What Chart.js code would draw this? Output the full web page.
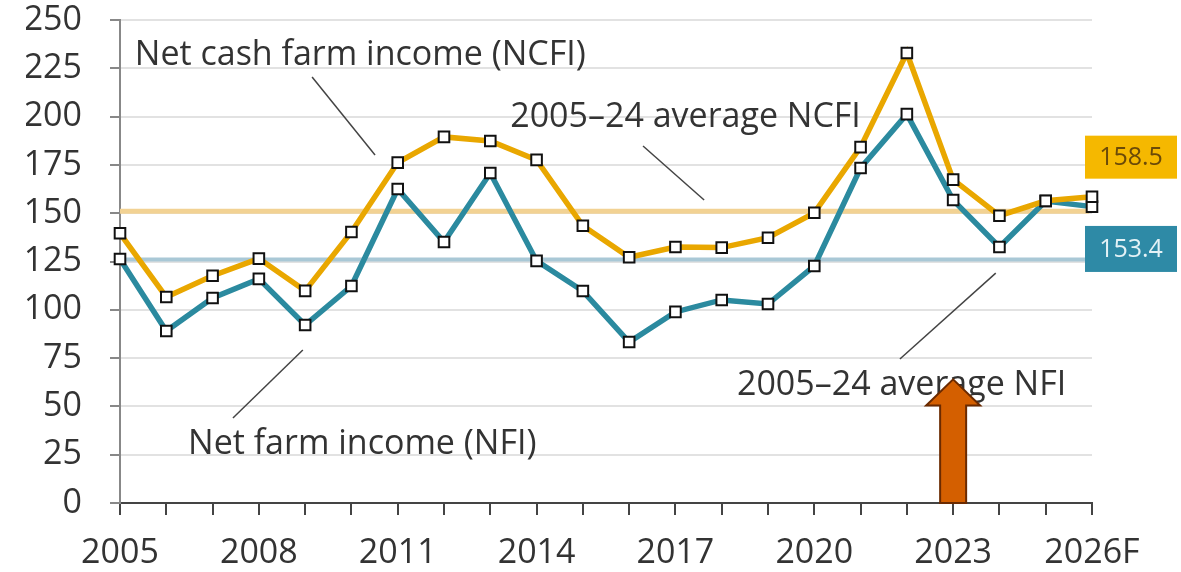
<!DOCTYPE html>
<html>
<head>
<meta charset="utf-8">
<script src="https://cdn.jsdelivr.net/npm/chart.js@4.4.1/dist/chart.umd.min.js"></script>
<style>
  html, body { margin: 0; padding: 0; background: #fff; }
  #wrap { width: 1181px; height: 572px; }
</style>
</head>
<body>
<div id="wrap"><canvas id="chart" width="1181" height="572"></canvas></div>
<script>
'use strict';

// Farm income, billion dollars
const years = ['2005', '2006', '2007', '2008', '2009', '2010', '2011', '2012', '2013', '2014', '2015',
               '2016', '2017', '2018', '2019', '2020', '2021', '2022', '2023', '2024', '2025', '2026F'];
const tickYears = ['2005', '2008', '2011', '2014', '2017', '2020', '2023', '2026F'];
const ncfi = [139.6, 106.6, 117.6, 126.5, 109.8, 140.3, 176.2, 189.5, 187.4, 177.6, 143.5,
              127.2, 132.5, 132.2, 137.3, 150.2, 184.2, 232.9, 167.4, 148.7, 156.4, 158.5];
const nfi = [126.3, 89.0, 106.1, 116.0, 92.1, 112.3, 162.5, 135.1, 170.8, 125.3, 109.7,
             83.3, 98.9, 105.1, 103.0, 122.7, 173.4, 201.3, 156.8, 132.5, 156.3, 153.4];
const ncfiAverage = 151;
const nfiAverage = 126;

const GOLD = '#e9a700';
const TEAL = '#2b8a9f';
const FONT = "'Open Sans', sans-serif";

// text callouts: x in year steps from 2005, y in chart units
const callouts = [
    { text: 'Net cash farm income (NCFI)', x: 0.32, y: 226.7, from: [4.15, 220.5], to: [5.51, 180.1] },
    { text: '2005\u201324 average NCFI', x: 8.43, y: 194.6, from: [11.30, 184.8], to: [12.62, 156.8] },
    { text: 'Net farm income (NFI)', x: 1.47, y: 25.4, from: [2.44, 44.0], to: [3.95, 79.2] },
    { text: '2005\u201324 average NFI', x: 13.33, y: 55.9, from: [16.85, 74.5], to: [18.92, 119.0] }
];

function px(chart, i) {
    return chart.scales.x.getPixelForDecimal(i / (years.length - 1));
}

function hline(ctx, x1, x2, y, color, width) {
    ctx.beginPath();
    ctx.strokeStyle = color;
    ctx.lineWidth = width;
    ctx.moveTo(x1, y);
    ctx.lineTo(x2, y);
    ctx.stroke();
}

const overlay = {
    id: 'overlay',
    beforeDatasetsDraw(chart) {
        const { ctx, chartArea: a, scales: { y } } = chart;
        ctx.save();
        hline(ctx, a.left, a.right - 3, y.getPixelForValue(ncfiAverage), '#f2d293', 5);
        hline(ctx, a.left, a.right - 3, y.getPixelForValue(nfiAverage), '#a9c8d6', 4);
        ctx.restore();
    },
    afterDraw(chart) {
        const { ctx, chartArea: a, scales: { x, y } } = chart;
        ctx.save();

        // callouts
        ctx.font = '34px ' + FONT;
        ctx.fillStyle = '#333';
        ctx.textBaseline = 'alphabetic';
        ctx.strokeStyle = '#444';
        ctx.lineWidth = 1.5;
        callouts.forEach(c => {
            ctx.fillText(c.text, px(chart, c.x), y.getPixelForValue(c.y));
            ctx.beginPath();
            ctx.moveTo(px(chart, c.from[0]), y.getPixelForValue(c.from[1]));
            ctx.lineTo(px(chart, c.to[0]), y.getPixelForValue(c.to[1]));
            ctx.stroke();
        });

        // last value boxes
        const boxes = [
            { value: ncfi[ncfi.length - 1], at: 179, h: 43, bg: '#f5b800', fg: '#6b4a08' },
            { value: nfi[nfi.length - 1], at: 131.5, h: 46, bg: '#2e8aa6', fg: '#e4f2f6' }
        ];
        ctx.font = '25px ' + FONT;
        ctx.textAlign = 'center';
        ctx.textBaseline = 'middle';
        boxes.forEach(b => {
            const cy = y.getPixelForValue(b.at);
            ctx.fillStyle = b.bg;
            ctx.fillRect(a.right - 7, cy - b.h / 2, 92, b.h);
            ctx.fillStyle = b.fg;
            ctx.fillText(b.value.toFixed(1), a.right + 39, cy + 1);
        });

        // orange arrow pointing at 2023
        const ax = x.getPixelForValue(years.indexOf('2023'));
        const tip = y.getPixelForValue(64);
        const base = y.getPixelForValue(50.5);
        const bottom = y.getPixelForValue(0);
        ctx.beginPath();
        ctx.moveTo(ax, tip);
        ctx.lineTo(ax + 27, base);
        ctx.lineTo(ax + 13, base);
        ctx.lineTo(ax + 13, bottom);
        ctx.lineTo(ax - 13, bottom);
        ctx.lineTo(ax - 13, base);
        ctx.lineTo(ax - 27, base);
        ctx.closePath();
        ctx.fillStyle = '#d45f00';
        ctx.fill();
        ctx.strokeStyle = '#6b2a00';
        ctx.lineWidth = 2;
        ctx.stroke();

        ctx.restore();
    }
};

Chart.defaults.font.family = FONT;
Chart.defaults.color = '#333';

const pointStyle = {
    pointStyle: 'rect',
    pointRadius: 7.5,
    pointBackgroundColor: '#fff',
    pointBorderColor: '#111',
    pointBorderWidth: 2
};

new Chart(document.getElementById('chart'), {
    type: 'line',
    data: {
        labels: years,
        datasets: [
            Object.assign({
                label: 'Net cash farm income (NCFI)',
                data: ncfi,
                order: 0,
                borderColor: GOLD,
                borderWidth: 5.5,
                tension: 0
            }, pointStyle),
            Object.assign({
                label: 'Net farm income (NFI)',
                data: nfi,
                order: 1,
                borderColor: TEAL,
                borderWidth: 5.5,
                tension: 0
            }, pointStyle)
        ]
    },
    options: {
        responsive: false,
        animation: false,
        layout: { autoPadding: false, padding: { left: 26, right: 89, top: 0, bottom: 0 } },
        plugins: {
            legend: { display: false },
            tooltip: { enabled: false }
        },
        scales: {
            x: {
                border: { color: '#444', width: 2 },
                grid: { drawOnChartArea: false, tickLength: 12, tickColor: '#444', lineWidth: 2 },
                ticks: {
                    autoSkip: false,
                    maxRotation: 0,
                    padding: 18,
                    font: { size: 34 },
                    color: '#333',
                    callback: function(value) {
                        const lbl = this.getLabelForValue(value);
                        return tickYears.includes(lbl) ? lbl : '';
                    }
                },
                afterFit(scale) {
                    scale.height = 69;
                    scale.paddingLeft = 0;
                    scale.paddingRight = 0;
                }
            },
            y: {
                min: 0,
                max: 250,
                border: { color: '#888', width: 2 },
                grid: { color: '#e2e2e2', lineWidth: 2, tickLength: 10, tickColor: '#888' },
                ticks: {
                    stepSize: 25,
                    padding: 28,
                    font: { size: 34 },
                    color: '#333'
                },
                afterFit(scale) {
                    scale.width = 94;
                    scale.paddingTop = 20;
                    scale.paddingBottom = 0;
                }
            }
        }
    },
    plugins: [overlay]
});
</script>
</body>
</html>
